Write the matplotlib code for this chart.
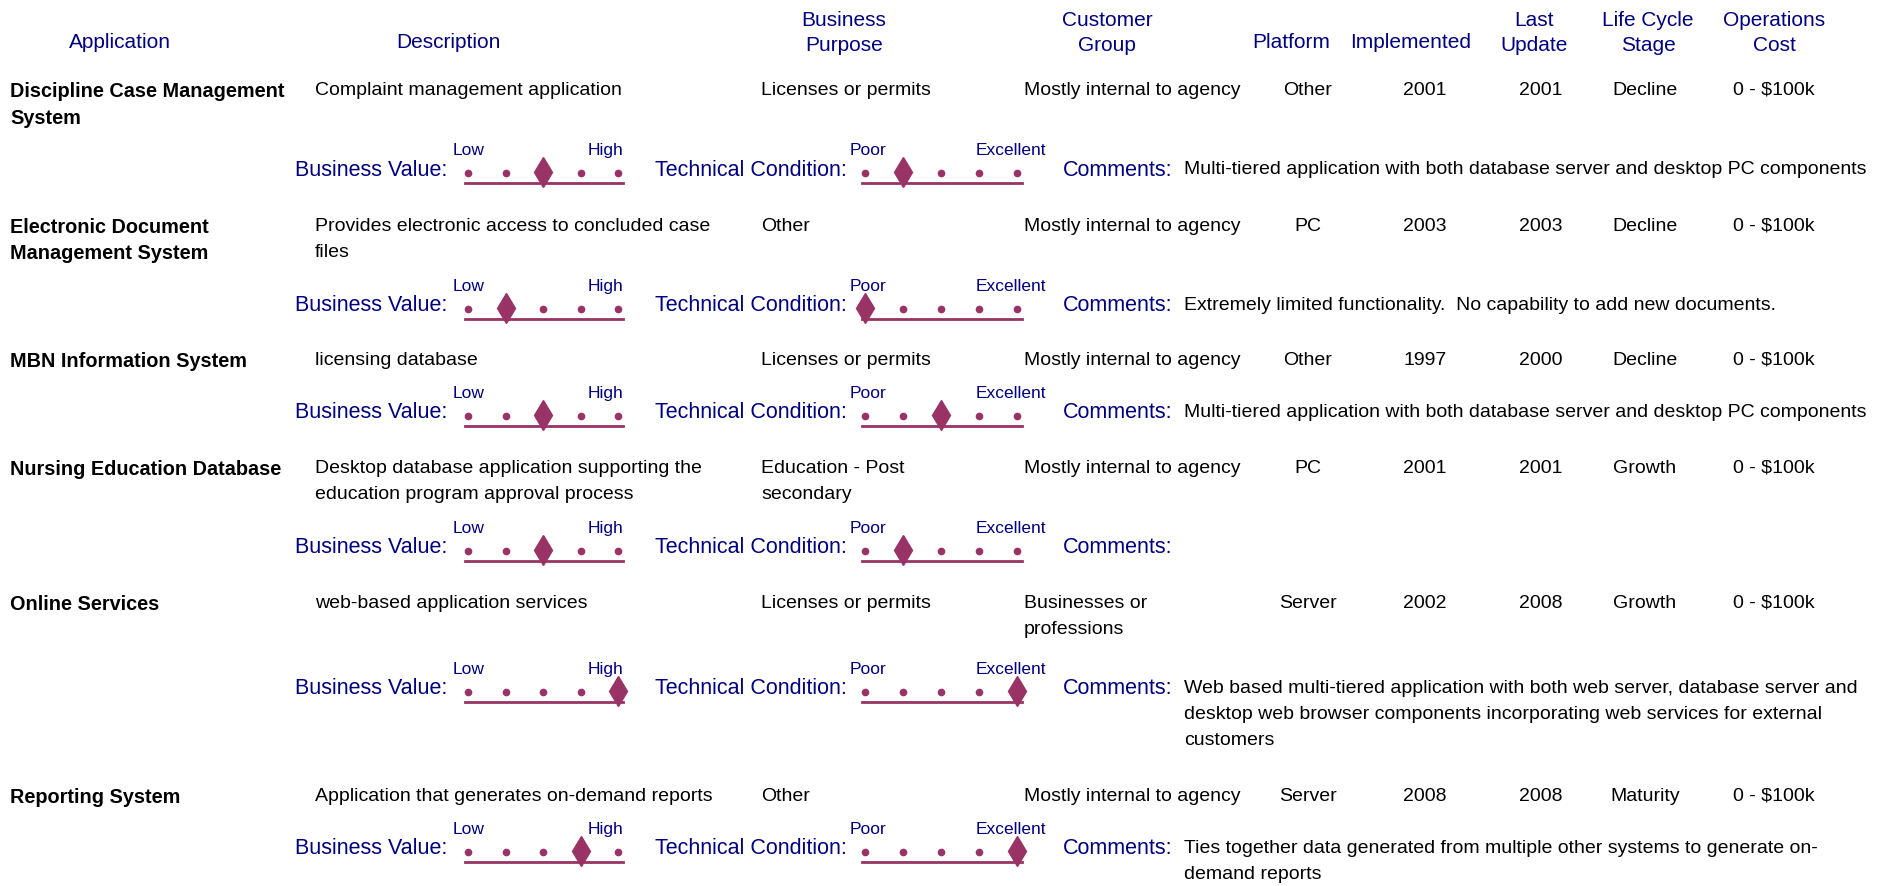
import matplotlib.pyplot as plt

plt.rcParams['font.family'] = ['Liberation Sans Narrow', 'Liberation Sans', 'DejaVu Sans']

NAVY = '#000080'
PLUM = '#993366'

# table contents
apps = ["Discipline Case Management\nSystem", "Electronic Document\nManagement System",
        "MBN Information System", "Nursing Education Database", "Online Services",
        "Reporting System"]
descs = ["Complaint management application",
         "Provides electronic access to concluded case\nfiles",
         "licensing database",
         "Desktop database application supporting the\neducation program approval process",
         "web-based application services",
         "Application that generates on-demand reports"]
purpose = ["Licenses or permits", "Other", "Licenses or permits",
           "Education - Post\nsecondary", "Licenses or permits", "Other"]
customer = ["Mostly internal to agency", "Mostly internal to agency",
            "Mostly internal to agency", "Mostly internal to agency",
            "Businesses or\nprofessions", "Mostly internal to agency"]
platform = ["Other", "PC", "Other", "PC", "Server", "Server"]
implemented = ["2001", "2003", "1997", "2001", "2002", "2008"]
last_update = ["2001", "2003", "2000", "2001", "2008", "2008"]
stage = ["Decline", "Decline", "Decline", "Growth", "Growth", "Maturity"]
cost = ["0 - $100k"] * 6
business_value = [3, 2, 3, 3, 5, 4]
tech_condition = [2, 1, 3, 2, 5, 5]
comments = ["Multi-tiered application with both database server and desktop PC components",
            "Extremely limited functionality.  No capability to add new documents.",
            "Multi-tiered application with both database server and desktop PC components",
            "",
            "Web based multi-tiered application with both web server, database server and\n"
            "desktop web browser components incorporating web services for external\ncustomers",
            "Ties together data generated from multiple other systems to generate on-\ndemand reports"]

headers = ["Application", "Description", "Business\nPurpose", "Customer\nGroup", "Platform",
           "Implemented", "Last\nUpdate", "Life Cycle\nStage", "Operations\nCost"]
header_x = [120, 448, 844, 1107, 1291, 1411, 1534, 1648, 1774]

W, H = 1883, 887
fig = plt.figure(figsize=(W / 100, H / 100), dpi=100)
ax = fig.add_axes([0, 0, 1, 1])
ax.set_xlim(0, W)
ax.set_ylim(H, 0)
ax.axis('off')

fs = 14
ls = 1.7

for hx, h in zip(header_x, headers):
    hy = 33 if '\n' in h else 42
    ax.text(hx, hy, h, ha='center', va='center', color=NAVY, fontsize=15, linespacing=1.4)

row_y = [90, 226, 360, 468, 603, 796]
rate_y = [170, 306, 413, 548, 689, 849]


def scale(x0, x1, yline, value, lo, lo_x, hi, hi_x):
    # small axes for one 5-point rating scale
    sax = fig.add_axes([x0 / W, 1 - yline / H, (x1 - x0) / W, 24 / H])
    sax.set_xlim(0.92, 5.13)
    sax.set_ylim(0, 1)
    pts = [p for p in range(1, 6) if p != value]
    sax.plot(pts, [0.4] * len(pts), 'o', color=PLUM, ms=4.5, clip_on=False)
    sax.plot([value], [0.45], 'd', color=PLUM, ms=15, clip_on=False)
    for s in ['top', 'left', 'right']:
        sax.spines[s].set_visible(False)
    sax.spines['bottom'].set_color(PLUM)
    sax.spines['bottom'].set_linewidth(2)
    sax.set_xticks([])
    sax.set_yticks([])
    sax.patch.set_alpha(0)
    ax.text(lo_x, yline - 29, lo, ha='left', va='baseline', color=NAVY, fontsize=12.5)
    ax.text(hi_x, yline - 29, hi, ha='right', va='baseline', color=NAVY, fontsize=12.5)


for i in range(len(apps)):
    y = row_y[i] - 8
    ax.text(10, y, apps[i], ha='left', va='top', fontsize=14.3, fontweight='bold', linespacing=1.5)
    ax.text(315, y, descs[i], ha='left', va='top', fontsize=fs, linespacing=ls)
    ax.text(761, y, purpose[i], ha='left', va='top', fontsize=fs, linespacing=ls)
    ax.text(1024, y, customer[i], ha='left', va='top', fontsize=fs, linespacing=ls)
    ax.text(1308, y, platform[i], ha='center', va='top', fontsize=fs)
    ax.text(1425, y, implemented[i], ha='center', va='top', fontsize=fs)
    ax.text(1541, y, last_update[i], ha='center', va='top', fontsize=fs)
    ax.text(1645, y, stage[i], ha='center', va='top', fontsize=fs)
    ax.text(1774, y, cost[i], ha='center', va='top', fontsize=fs)

    ry = rate_y[i]
    ax.text(447, ry, "Business Value:", ha='right', va='center', color=NAVY, fontsize=15.5)
    scale(465, 623, ry + 14, business_value[i], "Low", 453, "High", 623)
    ax.text(847, ry, "Technical Condition:", ha='right', va='center', color=NAVY, fontsize=15.5)
    scale(862, 1022, ry + 14, tech_condition[i], "Poor", 850, "Excellent", 1046)
    ax.text(1173, ry, "Comments:", ha='right', va='center', color=NAVY, fontsize=15.5)
    ax.text(1184, ry - 9, comments[i], ha='left', va='top', fontsize=fs, linespacing=ls)

fig.savefig('out.png', dpi=100)
